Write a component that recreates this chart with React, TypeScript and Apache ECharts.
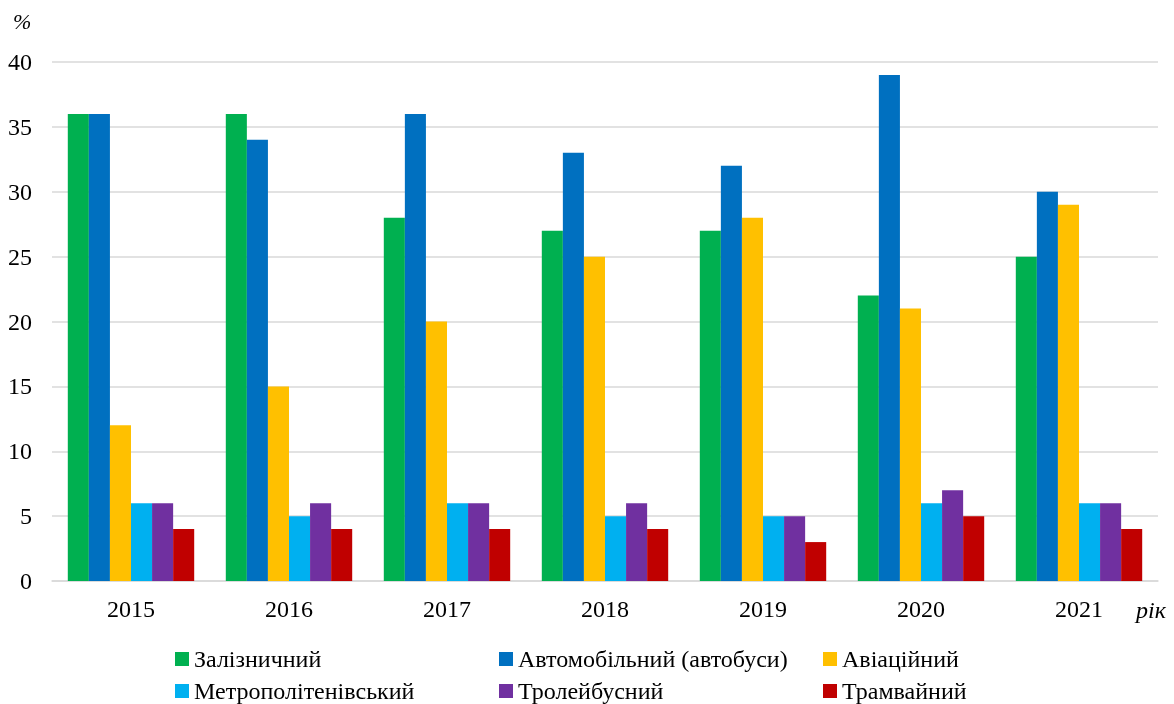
import React, { useEffect, useRef } from "react";
import * as echarts from "echarts";

const years = ["2015", "2016", "2017", "2018", "2019", "2020", "2021"];
const seriesNames = [
  "Залізничний",
  "Автомобільний (автобуси)",
  "Авіаційний",
  "Метрополітенівський",
  "Тролейбусний",
  "Трамвайний",
];
const colors = ["#00b050", "#0070c0", "#ffc000", "#00b0f0", "#7030a0", "#c00000"];
const rail = [36, 36, 28, 27, 27, 22, 25];
const auto = [36, 34, 36, 33, 32, 39, 30];
const air = [12, 15, 20, 25, 28, 21, 29];
const metro = [6, 5, 6, 5, 5, 6, 6];
const trolley = [6, 6, 6, 6, 5, 7, 6];
const tram = [4, 4, 4, 4, 3, 5, 4];
const values = [rail, auto, air, metro, trolley, tram];

const FONT = "Liberation Serif";
const legendPos = [
  { left: 175, top: 647 },
  { left: 499, top: 647 },
  { left: 823, top: 647 },
  { left: 175, top: 679 },
  { left: 499, top: 679 },
  { left: 823, top: 679 },
];

export default function App() {
  const ref = useRef<HTMLDivElement>(null);
  useEffect(() => {
    if (!ref.current) return;
    const chart = echarts.init(ref.current, undefined, { renderer: "svg" });
    chart.setOption({
      animation: false,
      textStyle: { fontFamily: FONT },
      grid: { left: 52, right: 16, top: 62, bottom: 123, containLabel: false },
      legend: seriesNames.map((n, i) => ({
        data: [n],
        left: legendPos[i].left,
        top: legendPos[i].top,
        itemWidth: 14,
        itemHeight: 14,
        itemGap: 0,
        padding: 0,
        icon: "rect",
        selectedMode: false,
        textStyle: { fontFamily: FONT, fontSize: 24, color: "#000" },
      })),
      xAxis: {
        type: "category",
        data: years,
        axisTick: { show: false },
        axisLine: { lineStyle: { color: "#d9d9d9", width: 1.5 } },
        axisLabel: { fontFamily: FONT, fontSize: 24, color: "#000", margin: 16 },
      },
      yAxis: {
        type: "value",
        min: 0,
        max: 40,
        interval: 5,
        axisLine: { show: false },
        axisTick: { show: false },
        splitLine: { lineStyle: { color: "#d9d9d9", width: 1.5 } },
        axisLabel: { fontFamily: FONT, fontSize: 24, color: "#000", margin: 20 },
      },
      graphic: [
        {
          type: "text",
          left: 13,
          top: 10,
          style: { text: "%", font: `italic 22px ${FONT}`, fill: "#000" },
        },
        {
          type: "text",
          left: 1136,
          top: 598,
          style: { text: "рік", font: `italic 24px ${FONT}`, fill: "#000" },
        },
      ],
      series: seriesNames.map((n, i) => ({
        name: n,
        type: "bar",
        data: values[i],
        itemStyle: { color: colors[i] },
        barGap: "0%",
        barCategoryGap: "20%",
      })),
    });
    return () => chart.dispose();
  }, []);
  return (
    <div
      ref={ref}
      style={{ position: "fixed", left: 0, top: 0, width: 1174, height: 704 }}
    />
  );
}
